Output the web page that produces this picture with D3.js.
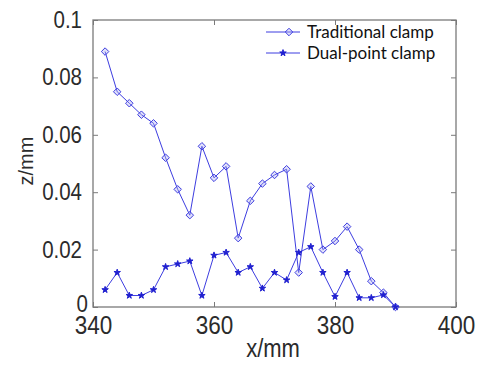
<!DOCTYPE html>
<html>
<head>
<meta charset="utf-8">
<script src="https://cdn.jsdelivr.net/npm/d3@7"></script>
<style>
  html, body { margin: 0; padding: 0; background: #fff; }
  svg { display: block; }
</style>
</head>
<body>
<script>
// Measurement positions along the workpiece (mm)
const positions = [342, 344, 346, 348, 350, 352, 354, 356, 358, 360, 362, 364, 366,
                   368, 370, 372, 374, 376, 378, 380, 382, 384, 386, 388, 390];
// Deformation z (mm) with the traditional clamp
const traditional = [0.089, 0.075, 0.071, 0.067, 0.064, 0.052, 0.041, 0.032, 0.056, 0.045,
                     0.049, 0.024, 0.037, 0.043, 0.046, 0.048, 0.012, 0.042, 0.020, 0.023,
                     0.028, 0.020, 0.009, 0.005, 0.000];
// Deformation z (mm) with the dual-point clamp
const dualPoint = [0.006, 0.012, 0.004, 0.004, 0.006, 0.014, 0.015, 0.016, 0.004, 0.018,
                   0.019, 0.012, 0.014, 0.0065, 0.012, 0.0094, 0.019, 0.021, 0.012, 0.0036,
                   0.012, 0.0032, 0.0032, 0.0042, 0.000];
const seriesNames = ["Traditional clamp", "Dual-point clamp"];
const xTicks = [340, 360, 380, 400];
const yTicks = [0, 0.02, 0.04, 0.06, 0.08, 0.1];
const yTickLabels = ["0", "0.02", "0.04", "0.06", "0.08", "0.1"];

const W = 478, H = 365;
const box = { left: 93, right: 456, top: 20, bottom: 307 };
const blue = "#3d3de0";
const dark = "#2020d0";
const frameColor = "#7a7a7a";
const textColor = "#2b2b2b";
const sans = "Liberation Sans, Arial, sans-serif";
const stretch = 1.13; // text is drawn slightly taller than wide

const svg = d3.select("body").append("svg")
  .attr("width", W).attr("height", H);

const x = d3.scaleLinear().domain([340, 400]).range([box.left, box.right]);
const y = d3.scaleLinear().domain([0, 0.1]).range([box.bottom, box.top]);

// Inward ticks on all four sides, labels only on bottom and left
const tickLen = 5;
const bottomAxis = d3.axisBottom(x).tickValues(xTicks).tickSize(-tickLen).tickPadding(8)
  .tickFormat(d3.format("d"));
const topAxis = d3.axisTop(x).tickValues(xTicks).tickSize(-tickLen).tickFormat("");
const leftAxis = d3.axisLeft(y).tickValues(yTicks).tickSize(-tickLen).tickPadding(11)
  .tickFormat((d, i) => yTickLabels[i]);
const rightAxis = d3.axisRight(y).tickValues(yTicks).tickSize(-tickLen).tickFormat("");

function styleAxis(g) {
  g.select(".domain").remove();
  g.selectAll(".tick line").attr("stroke", frameColor).attr("stroke-width", 1);
  g.selectAll(".tick text").attr("fill", textColor).attr("font-family", sans);
}

const gx = svg.append("g").attr("transform", `translate(0,${box.bottom})`).call(bottomAxis).call(styleAxis);
gx.selectAll(".tick text").attr("font-size", 22.5)
  .attr("transform", `scale(1,${stretch})`);
svg.append("g").attr("transform", `translate(0,${box.top})`).call(topAxis).call(styleAxis);
const gy = svg.append("g").attr("transform", `translate(${box.left},0)`).call(leftAxis).call(styleAxis);
gy.selectAll(".tick text").attr("font-size", 20.5)
  .attr("transform", `scale(1,${stretch})`);
// the zero label sits lower and further right, next to the corner
gy.selectAll(".tick").filter(d => d === 0).select("text").attr("dx", 6).attr("dy", "0.2em");
svg.append("g").attr("transform", `translate(${box.right},0)`).call(rightAxis).call(styleAxis);

// Frame
svg.append("rect")
  .attr("x", box.left).attr("y", box.top)
  .attr("width", box.right - box.left).attr("height", box.bottom - box.top)
  .attr("fill", "none").attr("stroke", frameColor).attr("stroke-width", 1.3);

// Axis titles
svg.append("text")
  .attr("transform", `translate(273,357) scale(1,${stretch})`)
  .attr("text-anchor", "middle")
  .attr("font-family", sans)
  .attr("font-size", 22).attr("fill", textColor)
  .text("x/mm");
svg.append("text")
  .attr("transform", "translate(33,161) rotate(-90)")
  .attr("text-anchor", "middle")
  .attr("font-family", sans)
  .attr("font-size", 20).attr("fill", textColor)
  .text("z/mm");

// Series
const line = d3.line().x(d => x(d[0])).y(d => y(d[1]));
const tradPts = positions.map((p, i) => [p, traditional[i]]);
const dualPts = positions.map((p, i) => [p, dualPoint[i]]);

const diamond = d3.symbol().type(d3.symbolDiamond2).size(36);
const dot = d3.symbol().type(d3.symbolStar).size(13);

function drawSeries(pts, marker, filled) {
  const g = svg.append("g");
  g.append("path").datum(pts)
    .attr("d", line).attr("fill", "none")
    .attr("stroke", blue).attr("stroke-width", 1);
  g.selectAll("path.m").data(pts).join("path")
    .attr("class", "m")
    .attr("transform", d => `translate(${x(d[0])},${y(d[1])})`)
    .attr("d", marker)
    .attr("fill", filled ? dark : "rgba(170,170,240,0.35)")
    .attr("stroke", filled ? dark : blue).attr("stroke-width", 1);
}
drawSeries(tradPts, diamond, false);
drawSeries(dualPts, dot, true);

// Legend
const legend = svg.append("g").attr("transform", "translate(266,0)");
const rows = [
  { name: seriesNames[0], y: 32, marker: diamond, filled: false, mx: 23 },
  { name: seriesNames[1], y: 53, marker: dot, filled: true, mx: 17 }
];
rows.forEach(r => {
  legend.append("line")
    .attr("x1", 0).attr("x2", 34).attr("y1", r.y).attr("y2", r.y)
    .attr("stroke", blue).attr("stroke-width", 1);
  legend.append("path")
    .attr("transform", `translate(${r.mx},${r.y})`)
    .attr("d", r.marker)
    .attr("fill", r.filled ? dark : "rgba(170,170,240,0.35)")
    .attr("stroke", r.filled ? dark : blue).attr("stroke-width", 1);
  legend.append("text")
    .attr("x", 41).attr("y", r.y).attr("dy", "0.36em")
    .attr("font-family", "Lato, 'Open Sans', sans-serif")
    .attr("font-size", 17).attr("fill", "#111")
    .text(r.name);
});
</script>
</body>
</html>
